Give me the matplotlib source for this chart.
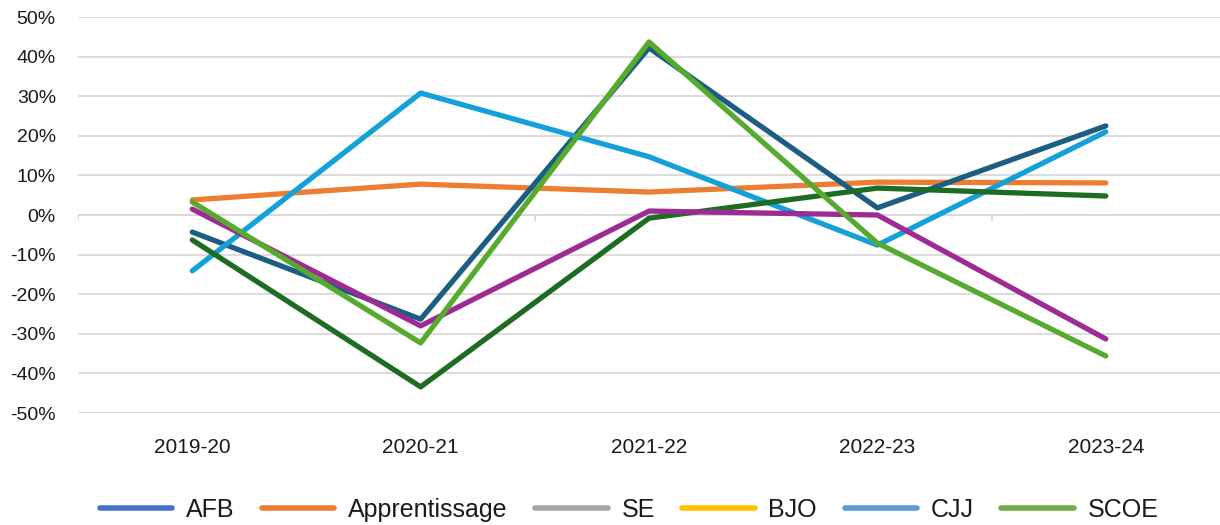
import matplotlib.pyplot as plt
from matplotlib.lines import Line2D
from matplotlib.ticker import PercentFormatter

years = ["2019-20", "2020-21", "2021-22", "2022-23", "2023-24"]

# series as drawn (values in %)
teal = [-4.3, -26.3, 42.2, 1.8, 22.5]
orange = [3.8, 7.8, 5.8, 8.3, 8.1]
light_blue = [-14.1, 30.8, 14.7, -7.6, 21.0]
purple = [1.5, -28.0, 1.0, 0.0, -31.3]
dark_green = [-6.3, -43.4, -0.8, 6.8, 4.8]
light_green = [3.3, -32.3, 43.7, -7.1, -35.6]

legend_names = ["AFB", "Apprentissage", "SE", "BJO", "CJJ", "SCOE"]
legend_colors = ["#4472C4", "#ED7D31", "#A5A5A5", "#FFC000", "#5B9BD5", "#70AD47"]

plt.rcParams['font.family'] = ['Liberation Sans', 'DejaVu Sans']
plt.rcParams['axes.unicode_minus'] = False

fig = plt.figure(figsize=(12.2, 5.25), dpi=100)
ax = fig.add_axes([0.064, 0.2133, 0.936, 0.7543])

x = range(len(years))
lw = 3.8
ax.plot(x, orange, color="#ED7D31", lw=lw, solid_capstyle='round')
ax.plot(x, teal, color="#1B5E82", lw=lw, solid_capstyle='round')
ax.plot(x, light_blue, color="#14A0D8", lw=lw, solid_capstyle='round')
ax.plot(x, dark_green, color="#1D6C22", lw=lw, solid_capstyle='round')
ax.plot(x, purple, color="#9C2B94", lw=lw, solid_capstyle='round')
ax.plot(x, light_green, color="#56AB2F", lw=lw, solid_capstyle='round')

ax.set_xlim(-0.5, 4.5)
ax.set_ylim(-50, 50)
ax.set_yticks(range(-50, 51, 10))
ax.yaxis.set_major_formatter(PercentFormatter(decimals=0))
ax.set_xticks(list(x))
ax.set_xticklabels(years)
ax.tick_params(axis='both', length=0, colors="#1A1A1A")
ax.tick_params(axis='y', labelsize=14, pad=16)
ax.tick_params(axis='x', labelsize=15, pad=18)
ax.grid(axis='y', color="#D9D9D9", lw=1.3)
ax.set_axisbelow(True)
for s in ax.spines.values():
    s.set_visible(False)
ax.axhline(0, color="#D9D9D9", lw=1.3, zorder=0)
for xb in [-0.5, 1.5, 3.5]:
    ax.plot([xb, xb], [0, -1.3], color="#D9D9D9", lw=1.3, zorder=0)

handles = [Line2D([0], [0], color=c, lw=4, solid_capstyle='round') for c in legend_colors]
fig.legend(handles, legend_names, loc='center', bbox_to_anchor=(0.5156, 0.029), ncol=6,
           frameon=False, fontsize=18, handlelength=2.9, columnspacing=1.1,
           handletextpad=0.55, labelcolor="#1A1A1A")

fig.savefig("out.png", dpi=100)
